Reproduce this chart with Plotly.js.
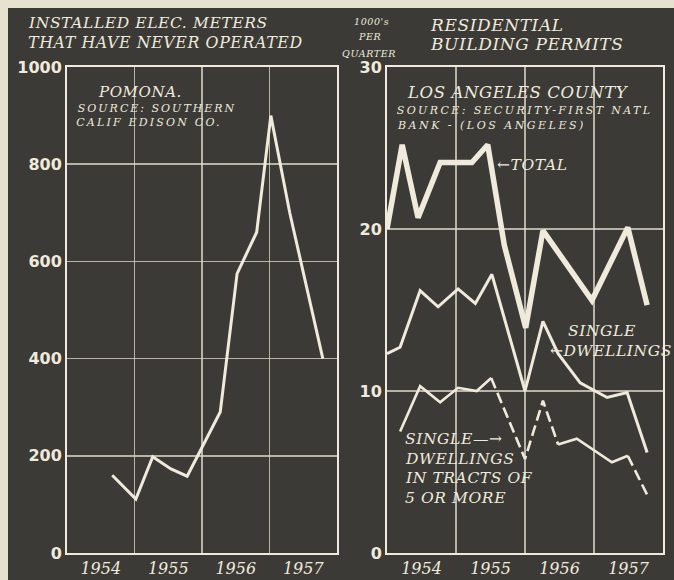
<!DOCTYPE html>
<html>
<head>
<meta charset="utf-8">
<script src="https://cdn.plot.ly/plotly-3.0.1.min.js"></script>
<style>
  html, body { margin: 0; padding: 0; background: #e7e1cf; width: 674px; height: 580px; overflow: hidden; }
  #chart { position: absolute; left: 8px; top: 8px; width: 666px; height: 572px; background: #3b3a36; }
  .annotation-text { letter-spacing: 0.6px; }
  .annotation[data-index="8"] .annotation-text { letter-spacing: 2px; }
  .annotation[data-index="9"] .annotation-text { letter-spacing: 2.2px; }
  .annotation[data-index="11"] .annotation-text { letter-spacing: 2.4px; }
  .annotation[data-index="12"] .annotation-text { letter-spacing: 2.5px; }
</style>
</head>
<body>
<div id="chart"></div>
<script>
// ---- Data ----
// Left panel: Pomona, installed electric meters that have never operated
const meterX    = [1954.67, 1955.02, 1955.27, 1955.54, 1955.78, 1956.27, 1956.52, 1956.81, 1957.02, 1957.30, 1957.79];
const meterVals = [160, 111, 198, 173, 158, 290, 575, 660, 900, 700, 400];

// Right panel: Los Angeles County residential building permits (1000's per quarter)
const totalX    = [1954.00, 1954.22, 1954.45, 1954.77, 1955.23, 1955.46, 1955.70, 1956.01, 1956.26, 1956.97, 1957.49, 1957.77];
const totalVals = [20.0, 25.2, 20.7, 24.1, 24.1, 25.2, 19.0, 13.9, 19.9, 15.6, 20.1, 15.3];

const singleX    = [1954.00, 1954.19, 1954.48, 1954.74, 1955.03, 1955.28, 1955.52, 1956.00, 1956.26, 1956.48, 1956.80, 1957.19, 1957.48, 1957.77];
const singleVals = [12.3, 12.7, 16.2, 15.2, 16.3, 15.4, 17.2, 10.0, 14.3, 12.3, 10.5, 9.6, 9.9, 6.2];

const tractX    = [1954.19, 1954.48, 1954.77, 1955.03, 1955.30, 1955.51, 1956.00, 1956.26, 1956.48, 1956.75, 1957.26, 1957.49, 1957.77];
const tractVals = [7.5, 10.3, 9.3, 10.2, 10.0, 10.8, 5.8, 9.4, 6.7, 7.05, 5.6, 6.0, 3.6];
// index ranges of the tract series drawn dashed in the original
const tractDashed = [[5, 8], [11, 12]];
const tractSolid  = [[0, 5], [8, 11]];

const yearLabels = ['1954', '1955', '1956', '1957'];
const yearCenters = [1954.5, 1955.5, 1956.5, 1957.5];
const yearBounds = [1955, 1956, 1957];
const leftTicks = [0, 200, 400, 600, 800, 1000];
const rightTicks = [0, 10, 20, 30];

// ---- Styling ----
const CHALK = '#efeadb';
const GRID = 'rgba(225,220,205,0.75)';
const SERIF = 'DejaVu Serif, serif';

const traces = [];
traces.push({x: meterX, y: meterVals, xaxis: 'x', yaxis: 'y', mode: 'lines',
  line: {color: CHALK, width: 3}, hoverinfo: 'skip'});
traces.push({x: totalX, y: totalVals, xaxis: 'x2', yaxis: 'y2', mode: 'lines',
  line: {color: CHALK, width: 5.5}, hoverinfo: 'skip'});
traces.push({x: singleX, y: singleVals, xaxis: 'x2', yaxis: 'y2', mode: 'lines',
  line: {color: CHALK, width: 3}, hoverinfo: 'skip'});
tractSolid.forEach(([a, b]) => traces.push({
  x: tractX.slice(a, b + 1), y: tractVals.slice(a, b + 1), xaxis: 'x2', yaxis: 'y2', mode: 'lines',
  line: {color: CHALK, width: 2.6}, hoverinfo: 'skip'}));
tractDashed.forEach(([a, b]) => traces.push({
  x: tractX.slice(a, b + 1), y: tractVals.slice(a, b + 1), xaxis: 'x2', yaxis: 'y2', mode: 'lines',
  line: {color: CHALK, width: 2.6, dash: '11px,5px'}, hoverinfo: 'skip'}));

function xAxis(domain) {
  return {
    domain: domain, range: [1954, 1958], fixedrange: true,
    tickmode: 'array', tickvals: yearCenters, ticktext: yearLabels,
    showgrid: false, zeroline: false, ticks: '',
    tickfont: {family: SERIF, size: 16, color: CHALK, style: 'italic'},
    showline: true, mirror: true, linecolor: CHALK, linewidth: 2,
    minor: {tickmode: 'array', tickvals: yearBounds, showgrid: true, gridcolor: GRID, gridwidth: 1.5, ticks: ''}
  };
}
function yAxis(range, ticks, anchor) {
  return {
    domain: [0, 1], range: range, fixedrange: true, anchor: anchor,
    tickmode: 'array', tickvals: ticks,
    showgrid: true, gridcolor: GRID, gridwidth: 1.5, zeroline: false, ticks: '',
    tickfont: {family: 'DejaVu Sans, sans-serif', size: 16, color: CHALK, weight: 'bold'},
    showline: true, mirror: true, linecolor: CHALK, linewidth: 2
  };
}

// pixel (page) -> paper coordinates
const PX = x => (x - 67) / 596;
const PY = y => (553 - y) / 486;

function note(text, x, y, size, opts) {
  return Object.assign({
    text: text, xref: 'paper', yref: 'paper', x: PX(x), y: PY(y),
    xanchor: 'left', yanchor: 'middle', showarrow: false,
    font: {family: SERIF, size: size, color: CHALK, style: 'italic'}
  }, opts || {});
}

const annotations = [
  note('INSTALLED ELEC. METERS', 26, 23, 15.5),
  note('THAT HAVE NEVER OPERATED', 26, 42, 15.8),
  note('RESIDENTIAL', 428, 25, 17),
  note('BUILDING PERMITS', 428, 44, 17),
  note("1000's", 371, 21, 9.5, {xanchor: 'center'}),
  note('PER', 369, 37, 9.5, {xanchor: 'center'}),
  note('QUARTER', 369, 54, 9.5, {xanchor: 'center'}),
  note('POMONA.', 96, 92, 15),
  note('SOURCE: SOUTHERN', 87, 108, 11),
  note('CALIF EDISON CO.', 87, 122, 11),
  note('LOS ANGELES COUNTY', 405, 93, 16.5),
  note('SOURCE: SECURITY-FIRST NATL', 419, 110, 11),
  note('BANK - (LOS ANGELES)', 414, 125, 11),
  note('\u2190TOTAL', 495, 165, 15.5),
  note('SINGLE', 566, 331, 15.5),
  note('\u2190DWELLINGS', 548, 351, 15.5),
  note('SINGLE\u2014\u2192', 403, 439, 15.5),
  note('DWELLINGS', 403, 459, 15.5),
  note('IN TRACTS OF', 403, 478, 15.5),
  note('5 OR MORE', 403, 498, 15.5)
];

const layout = {
  width: 666, height: 572,
  margin: {l: 59, r: 11, t: 59, b: 27},
  paper_bgcolor: '#3b3a36', plot_bgcolor: '#3b3a36',
  showlegend: false,
  xaxis: xAxis([0, 270 / 596]),
  yaxis: yAxis([0, 1000], leftTicks, 'x'),
  xaxis2: xAxis([320 / 596, 1]),
  yaxis2: yAxis([0, 30], rightTicks, 'x2'),
  annotations: annotations
};
layout.xaxis.anchor = 'y';
layout.xaxis2.anchor = 'y2';

Plotly.newPlot('chart', traces, layout, {staticPlot: true, displayModeBar: false});
</script>
</body>
</html>
